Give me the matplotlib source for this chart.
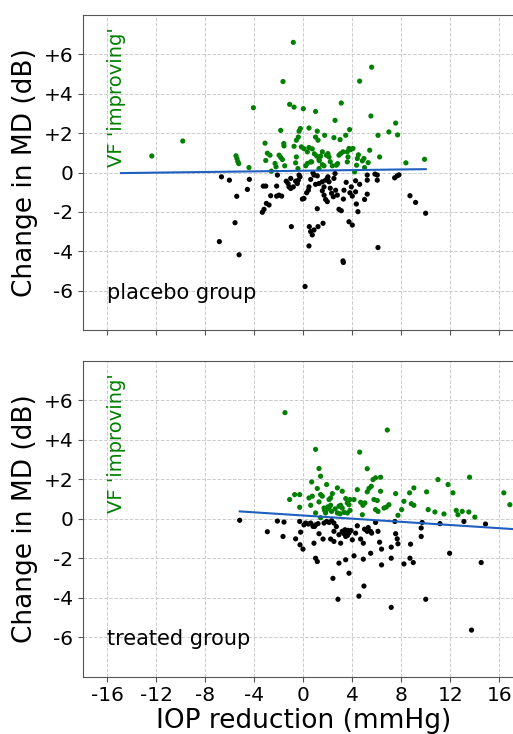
import matplotlib.pyplot as plt
import numpy as np

# placebo group: IOP reduction (mmHg) vs change in MD (dB)
placebo_x = [-12.38, -9.85, -5.5, -5.42, -5.35, -5.28, -4.44, -4.08, -3.13, -3.07, -2.94, -2.72, -2.61, -2.31,
             -2.23, -1.98, -1.85, -1.84, -1.71, -1.66, -1.6, -1.58, -1.52, -1.12, -0.82, -0.76, -0.76, -0.63,
             -0.57, -0.57, -0.41, -0.35, -0.24, -0.44, -0.16, 0.0, 0.05, 0.19, 0.33, 0.33, 0.46, 0.46, 0.6,
             0.68, 0.73, 1.0, 1.0, 1.14, 1.2, 1.09, 1.28, 1.41, 1.55, 1.28, 1.55, 1.69, 1.74, 1.88, 2.01, 2.1,
             2.37, 2.5, 2.59, 2.69, 2.91, 3.05, 3.0, 3.1, 3.24, 3.46, 3.59, 3.65, 3.59, 3.73, 3.86, 3.78, 4.05,
             4.19, 4.35, 4.41, 4.6, 4.82, 4.95, 5.0, 5.42, 5.52, 5.58, 6.1, 6.23, 6.99, 7.54, 7.7, 8.38, 9.9,
             1.3, 2.2, 0.9, 2.8, 4.5, 5.3,
             -6.69, -6.04, -5.44, -5.58, -6.86, -5.25, -4.57, -4.41, -3.35, -3.21, -3.02, -2.8, -3.27, -3.07,
             -2.67, -2.18, -2.12, -2.18, -1.99, -1.77, -1.39, -1.25, -1.17, -1.03, -0.82, -0.98, -1.03, -0.63,
             -0.49, -0.41, -0.35, -0.27, -0.08, 0.05, 0.14, 0.27, 0.41, 0.46, 0.6, 0.49, 0.6, 0.73, 0.87, 0.46,
             0.79, 0.87, 1.14, 1.14, 1.2, 1.28, 1.55, 1.69, 1.61, 1.55, 1.69, 1.82, 1.96, 1.82, 1.96, 2.1, 2.01,
             2.31, 2.45, 2.5, 2.59, 2.64, 2.78, 2.91, 3.1, 3.24, 3.27, 3.27, 3.32, 3.73, 4.0, 3.81, 3.92, 4.0,
             4.27, 4.27, 4.33, 4.46, 5.0, 5.22, 5.22, 5.22, 5.85, 6.04, 6.04, 6.1, 7.46, 7.67, 7.81, 8.71, 9.17,
             9.99, 1.0, 2.2, 3.5, 4.6]
placebo_y = [0.84, 1.6, 0.85, 0.7, 0.55, 0.45, 0.25, 3.29, 1.49, 0.61, 0.98, 0.88, 0.07, 0.46,
             0.29, 0.88, 2.14, 0.76, 0.66, 4.62, 1.47, 1.35, 0.34, 3.46, 6.61, 3.32, 1.33, 0.49,
             0.79, 1.64, 1.8, 2.1, 2.23, 0.2, 1.3, 3.24, 1.21, 0.34, 0.46, 1.05, 1.27, 2.26, 0.54,
             0.54, 1.2, 3.1, 1.8, 2.1, 1.64, 0.84, 0.66, 0.83, 1.05, 0.2, 0.4, 0.34, 1.89, 0.88, 0.96, 0.79,
             0.34, 1.77, 2.65, 0.37, 0.88, 0.96, 1.67, 3.53, 1.05, 1.89, 0.54, 0.79, 1.05, 1.22, 1.16, 2.18, 1.22,
             0.03, 0.37, 0.71, 4.64, 0.59, 0.71, 0.25, 1.13, 2.87, 5.35, 1.89, 0.79, 2.06, 2.51, 1.91, 0.49, 0.67,
             0.6, 0.55, 0.95, 0.45, 0.9, 0.5,
             -0.22, -0.39, -1.21, -2.55, -3.51, -4.18, -0.86, -0.35, -2.02, -1.87, -1.57, -1.65, -0.69, -0.69,
             -1.18, -0.69, -0.13, -1.2, -1.15, -1.2, -0.44, -0.56, -0.73, -0.81, -0.73, -2.75, -0.3, -0.44,
             -0.56, -0.39, -0.13, -0.22, -1.35, -1.32, -5.79, -1.03, -0.9, -0.73, -0.35, -2.75, -3.0, -3.17, -2.92, -3.73,
             -0.02, -0.13, -0.17, -1.84, -2.75, -0.56, -0.47, -0.73, -2.58, -0.93, -1.15, -1.37, -1.48, -0.39, -0.3, -0.47, -0.22,
             -1.06, -1.23, -0.3, -0.05, -0.9, -1.15, -1.87, -1.94, -4.49, -4.57, -1.35, -0.9, -2.5, -2.67, -1.03, -0.73, -1.2,
             -0.42, -0.98, -1.6, -1.99, -1.37, -1.1, -0.13, -0.39, -0.08, -0.13, -0.39, -3.81, -0.27, -0.17, -0.12, -1.18, -1.52,
             -2.07, -0.6, -0.8, -0.5, -0.6]

# treated group
treated_x = [-1.5, -1.12, -0.71, -0.3, -0.3, 0.46, 0.73, 0.6, 0.68, 1.0, 1.14, 1.28, 1.41, 1.28, 1.41, 1.55,
             1.0, 1.41, 1.69, 1.74, 1.82, 1.9, 2.1, 2.23, 2.1, 2.23, 2.31, 2.37, 2.78, 2.78, 2.91, 3.05, 3.18,
             3.18, 3.46, 3.59, 3.73, 3.81, 3.32, 3.59, 3.81, 4.14, 4.41, 4.6, 4.68, 4.87, 5.03, 4.82, 5.22, 5.22,
             5.36, 5.55, 5.69, 5.9, 5.77, 6.04, 5.9, 6.1, 6.31, 6.31, 6.59, 6.78, 6.99, 6.86, 7.54, 7.73, 8.03,
             8.22, 8.68, 9.03, 8.82, 9.03, 10.07, 10.2, 10.75, 11.0, 11.49, 11.82, 12.22, 12.49, 12.63, 12.98,
             13.52, 13.58, 14.01, 16.38, 16.87, 1.9, 2.0, 2.6, 3.0,
             -5.2, -2.94, -2.12, -1.58, -1.66, -0.63, -0.3, -0.22, -0.27, -0.03, 0.05, 0.19, 0.41, 0.6, 0.79, 0.92,
             1.0, 1.2, 0.87, 1.0, 1.14, 1.28, 1.61, 1.69, 1.9, 2.1, 2.31, 2.23, 2.5, 2.42, 2.5, 2.5, 2.83, 2.91,
             2.91, 3.05, 3.18, 3.32, 3.46, 3.59, 3.73, 3.4, 3.65, 3.46, 3.73, 4.0, 4.14, 4.27, 4.41, 4.54, 4.68,
             4.9, 4.9, 4.95, 5.0, 5.22, 5.5, 5.58, 5.5, 5.9, 6.1, 6.23, 6.39, 6.39, 7.18, 7.18, 7.18, 7.48, 7.54,
             7.67, 7.73, 8.22, 8.71, 8.98, 8.76, 9.63, 9.63, 9.71, 10.0, 11.16, 11.95, 13.12, 13.74, 14.53, 14.88,
             3.6, 3.9, 5.3, 2.7]
treated_y = [5.37, 0.97, 1.22, 1.22, 0.58, 1.05, 1.14, 0.68, 1.86, 3.51, 1.53, 2.54, 2.15, 0.85, 1.22, 1.14,
             0.29, 0.05, 0.54, 0.42, 0.29, 1.73, 0.97, 1.05, 0.54, 0.68, 0.37, 1.27, 1.56, 0.29, 0.63, 0.68, 0.54,
             1.39, 1.02, 0.8, 0.71, 0.97, 0.32, 0.29, 0.42, 0.97, 1.47, 3.37, 0.83, 0.68, 0.8, 0.2, 2.53, 1.36,
             1.53, 1.64, 1.98, 2.07, 0.97, 0.92, 0.46, 0.37, 2.1, 1.39, 0.54, 0.59, 0.71, 4.49, 1.27, 0.17, 0.46,
             0.88, 1.31, 1.56, 0.76, 0.68, 1.36, 0.46, 0.34, 1.98, 0.24, 1.73, 1.31, 0.42, 0.2, 0.37,
             0.34, 2.1, 0.08, 1.31, 0.71, 0.45, 0.6, 0.5, 0.25,
             -0.08, -0.66, -0.12, -0.17, -0.9, -1.02, -0.14, -0.68, -1.32, -1.54, -0.31, -0.22, -0.27, -0.22, -0.39, -0.39,
             -0.31, -0.25, -1.24, -2.0, -2.17, -0.76, -1.03, -0.22, -0.14, -0.19, -0.1, -1.03, -1.15, -3.02, -0.64, -0.22, -4.08, -2.25,
             -0.81, -1.24, -0.64, -0.76, -0.9, -0.81, -0.73, -0.56, -0.59, -2.08, -2.76, -1.07, -1.88, -0.73, -0.36, -3.92, -1.03,
             -1.24, -2.05, -3.41, -0.53, -0.64, -0.64, -0.73, -1.75, -0.19, -0.64, -1.19, -1.54, -2.34, -2.0, -1.44, -4.49, -0.14, -0.76,
             -1.02, -1.27, -2.29, -2.0, -2.22, -1.29, -0.47, -0.9, -0.19, -4.08, -0.25, -1.75, -0.14, -5.64, -2.22, -0.27,
             -0.85, -0.6, -0.45, -0.4]

# fitted lines (start x, end x, start y, end y)
placebo_line_x = [-14.9, 10.0]
placebo_line_y = [-0.03, 0.17]
treated_line_x = [-5.2, 18.0]
treated_line_y = [0.37, -0.56]

yticks = [-6, -4, -2, 0, 2, 4, 6]
ytick_labels = ['-6', '-4', '-2', '0', '+2', '+4', '+6']
xticks = [-16, -12, -8, -4, 0, 4, 8, 12, 16]
xtick_labels = ['-16', '-12', '-8', '-4', '0', '4', '8', '12', '16']

fig = plt.figure(figsize=(5.13, 7.34), dpi=100)
ax1 = fig.add_axes([83 / 513, 404 / 734, 0.859, 315 / 734])
ax2 = fig.add_axes([83 / 513, 57.3 / 734, 0.859, 316 / 734])

for ax, xs, ys, lx, ly, name in [(ax1, placebo_x, placebo_y, placebo_line_x, placebo_line_y, 'placebo group'),
                                 (ax2, treated_x, treated_y, treated_line_x, treated_line_y, 'treated group')]:
    xs = np.array(xs)
    ys = np.array(ys)
    up = ys > 0
    ax.scatter(xs[up], ys[up], s=14, c='green', edgecolors='none', zorder=3)
    ax.scatter(xs[~up], ys[~up], s=14, c='black', edgecolors='none', zorder=3)
    ax.plot(lx, ly, c='#1f5fbf', lw=1.5, zorder=4)
    ax.set_xlim(-18, 18)
    ax.set_ylim(-8, 8)
    ax.set_xticks(xticks)
    ax.set_yticks(yticks)
    ax.set_yticklabels(ytick_labels)
    ax.grid(True, ls='--', lw=0.7, color='#cccccc')
    ax.set_axisbelow(True)
    for sp in ax.spines.values():
        sp.set_color('#555555')
    ax.tick_params(axis='both', labelsize=14.5, colors='#555555', labelcolor='black')
    ax.set_ylabel('Change in MD (dB)', fontsize=19)
    ax.text(-16, -6.1, name, fontsize=15, va='center', ha='left')
    ax.text(-15.3, 0.3, "VF 'improving'", fontsize=14, color='green', rotation=90,
            ha='center', va='bottom')

ax1.set_xticklabels([])
ax2.set_xticklabels(xtick_labels)
ax2.set_xlabel('IOP reduction (mmHg)', fontsize=19, labelpad=2)

plt.savefig('out.png', dpi=100)
